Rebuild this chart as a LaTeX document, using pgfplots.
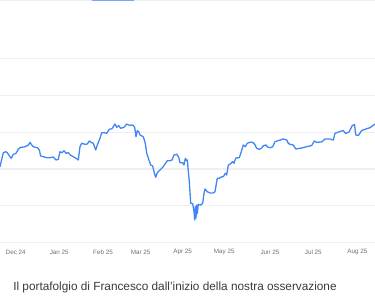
\documentclass[border=0pt]{standalone}
\usepackage{pgfplots}
\pgfplotsset{compat=1.18}
\usepackage{fontspec}
\setmainfont{Liberation Sans}
\definecolor{lineblue}{HTML}{4285F4}
\definecolor{gridgray}{HTML}{EFEFEF}
\definecolor{topgray}{HTML}{ECEFF4}
\definecolor{tabblue}{HTML}{7AA7F6}
\definecolor{ticktext}{HTML}{6F6F6F}
\definecolor{titletext}{HTML}{3A3A3A}
\begin{document}
\begin{tikzpicture}
\begin{axis}[
  scale only axis, width=375pt, height=302pt,
  xmin=0, xmax=375, ymin=0, ymax=302,
  axis line style={draw=none},
  tick style={draw=none},
  ytick={59.3,96.1,133,169.8,206.6,243.5},
  yticklabels={},
  ymajorgrids,
  major grid style={gridgray, line width=1.2pt},
  xtick={15.7,59.3,103,140.7,182.7,224.3,270,313.3,357.3},
  xticklabels={Dec 24,Jan 25,Feb 25,Mar 25,Apr 25,May 25,Jun 25,Jul 25,Aug 25},
  xticklabel style={anchor=center, yshift=50pt, font=\fontsize{6.3}{7}\selectfont, text=ticktext},
  clip=true,
]
\addplot[lineblue, line width=1.3pt, line join=round] coordinates {
(0,135.3)(3.3,149.3)(6,150.3)(7.3,149.3)(10,145.3)(11.3,143.7)(13.3,147.7)(16,148.7)
(18.3,152.7)(20.7,154.7)(24,155)(26.7,156)(28.7,157.3)(30,159.7)(31.7,157)(33.3,155.3)
(37.3,154.3)(39.3,152)(40.7,146)(43.3,145.3)(46.7,144.3)(50,144.3)(53.3,145)(56,142)
(58.3,142.7)(60,150.3)(62,149.3)(64,151.3)(66,148.7)(68.3,149.3)(70.7,146.7)(73.3,145.3)
(76.7,143.3)(78.3,142)(80,155.3)(81.7,158.7)(85,157.7)(87.3,158)(89.3,161)(91.7,159.3)
(93.3,158.7)(95.7,152)(97.3,157)(100,163.7)(101.7,169.3)(104,169.3)(106.7,168.7)(109.3,172.7)
(112,173.3)(115,178)(116.7,174.7)(118.7,176.3)(120.7,173.7)(124,174.7)(126.7,178)(129.3,176.7)
(132.7,177)(134.7,174.7)(136,165.3)(137.3,171.3)(138.7,170.3)(140,167)(143.3,165.3)(145.3,158.7)
(146.7,148.7)(148.7,142.7)(150.7,137)(152.7,136)(154,130.3)(155.7,124.7)(157.3,129.3)(160,132)
(162.7,134.7)(165,138)(167.3,141.3)(170,141.3)(172,142)(174,147)(176.7,147.7)(178.7,144.7)
(180,139.3)(182.7,139.3)(184,137)(185.3,143.7)(186.7,141.3)(187.3,142)(189.3,120.3)(190.7,98.7)
(192.7,98.3)(194,90.3)(194.7,82)(195.3,95.3)(196,83.7)(196.7,97)(197.3,88.7)(198.3,97.7)
(200.7,97)(202.7,98.7)(204,108.7)(205,113)(207.3,110.3)(210,109)(213.3,109)(215,110.3)
(217.3,123.7)(219.3,123.7)(221.7,125.3)(223.3,125.3)(225.3,128.7)(226.7,127)(228.3,137)(230,137.7)
(232.7,140.3)(234,138.7)(235.7,143.7)(237.3,144.3)(239.3,144.3)(241.3,150.3)(243.3,157)(245.3,155.3)
(247.3,158.7)(250,159.7)(252.7,159.7)(254.7,157.7)(256.7,153.7)(259.3,152.7)(261.3,153.7)(263.3,156.3)
(266,157)(268,154.7)(270.7,154.3)(272.7,155.3)(275,160.3)(283.3,163)(286.7,162)(288.3,158.7)
(290,157.7)(293.3,157)(295.7,153)(301.7,154)(306.7,155.3)(311.7,156.5)(314.3,161)(316.7,159.7)
(321.7,160)(325,163)(330,163)(333.3,162)(335,168.7)(340,170.5)(343.3,171.5)(345.5,168.5)
(349,170)(352.3,176.5)(354.5,177.5)(355.8,167)(358.3,166.5)(361.7,171.5)(366.7,173.3)(370,174.3)
(375,178)
};
\draw[topgray, line width=1pt] (axis cs:0,301.5) -- (axis cs:375,301.5);
\draw[tabblue, line width=1.2pt] (axis cs:92,301.4) -- (axis cs:134.3,301.4);
\node[text=titletext, font=\fontsize{11.8}{14}\selectfont, anchor=center] at (axis cs:175,15) {Il portafolgio di Francesco dall'inizio della nostra osservazione};
\end{axis}
\pgfresetboundingbox
\path (current axis.south west) rectangle (current axis.north east);
\end{tikzpicture}
\end{document}
